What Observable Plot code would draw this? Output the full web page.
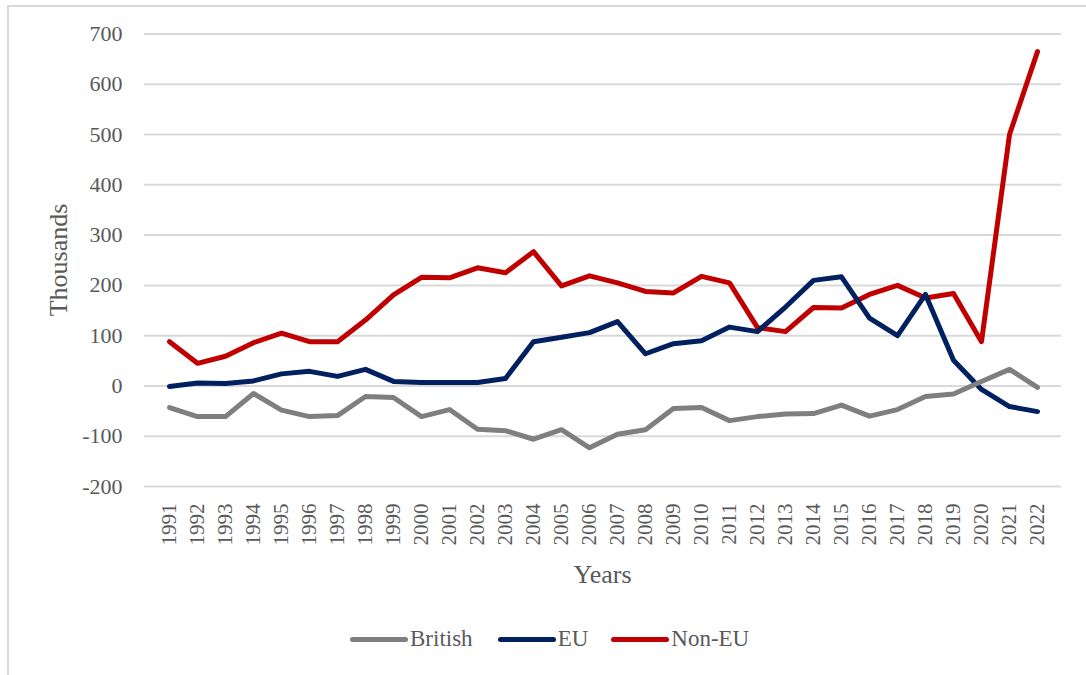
<!DOCTYPE html>
<html>
<head>
<meta charset="utf-8">
<script src="https://cdn.jsdelivr.net/npm/d3@7"></script>
<script src="https://cdn.jsdelivr.net/npm/@observablehq/plot@0.6"></script>
<style>
  html, body { margin: 0; padding: 0; background: #fff; }
  #wrap { position: relative; width: 1086px; height: 675px; overflow: hidden; font-family: "Liberation Serif", "Times New Roman", serif; }
  #frame { position: absolute; left: 7px; top: 5px; width: 1200px; height: 800px; border-left: 2px solid #d9d9d9; border-top: 2px solid #d9d9d9; }
  #chart { position: absolute; left: 0; top: 0; }
  #chart svg text { font-family: "Liberation Serif", "Times New Roman", serif; }
  #legend { position: absolute; left: 350px; top: 626px; display: flex; align-items: center; font-size: 23px; color: #595959; }
  .item { display: flex; align-items: center; }
  .sw { width: 58px; height: 5px; border-radius: 3px; margin-right: 2px; }
</style>
</head>
<body>
<div id="wrap">
  <div id="frame"></div>
  <div id="chart"></div>
  <div id="legend"></div>
</div>
<script>
const years = [1991,1992,1993,1994,1995,1996,1997,1998,1999,2000,2001,2002,2003,2004,2005,2006,2007,2008,2009,2010,2011,2012,2013,2014,2015,2016,2017,2018,2019,2020,2021,2022];
const british = [-43,-61,-61,-15,-48,-61,-59,-21,-23,-61,-47,-86,-89,-106,-87,-123,-96,-87,-45,-43,-69,-61,-56,-55,-38,-60,-47,-21,-16,9,33,-3];
const eu = [-1,6,5,10,24,29,19,33,9,7,7,7,15,88,97,106,128,64,84,90,117,108,157,210,217,135,100,182,51,-7,-41,-51];
const nonEu = [88,45,59,86,105,88,88,131,181,216,215,235,225,267,199,219,205,188,185,218,205,116,108,156,155,182,200,175,184,88,500,665];
const seriesNames = ["British", "EU", "Non-EU"];
const seriesColors = ["#7f7f7f", "#002060", "#c00000"];
const yTicks = [-200,-100,0,100,200,300,400,500,600,700];
const xTitle = "Years";
const yTitle = "Thousands";

const seriesValues = [british, eu, nonEu];
const rows = [];
seriesNames.forEach((name, i) => {
  years.forEach((yr, j) => rows.push({series: name, year: yr, value: seriesValues[i][j]}));
});
// draw in reverse so British sits on top
const drawOrder = seriesNames.slice().reverse();
const serif = "Liberation Serif";

const W = 1086, H = 600;
const chart = Plot.plot({
  width: W,
  height: H,
  marginLeft: 144,
  marginRight: 25,
  marginTop: 33.5,
  marginBottom: H - 486,
  style: {fontFamily: "'Liberation Serif', 'Times New Roman', serif", color: "#595959", background: "transparent", overflow: "visible"},
  x: {type: "point", domain: years, padding: 0.5},
  y: {domain: [-200, 700]},
  color: {domain: seriesNames, range: seriesColors},
  marks: [
    Plot.gridY(yTicks, {stroke: "#d9d9d9", strokeOpacity: 1, strokeWidth: 2}),
    Plot.axisY(yTicks, {tickSize: 0, tickPadding: 22, fontSize: 22, fontFamily: serif, fontVariant: "normal", label: null, tickFormat: d => String(d)}),
    Plot.axisX(years, {tickSize: 0, tickPadding: 17, tickRotate: -90, fontSize: 21, fontFamily: serif, fontVariant: "normal", label: null, tickFormat: d => String(d)}),
    ...drawOrder.map(name => Plot.line(rows.filter(r => r.series === name), {
      x: "year", y: "value", stroke: "series", strokeWidth: 5,
      strokeLinejoin: "round", strokeLinecap: "round"
    }))
  ]
});
document.getElementById("chart").appendChild(chart);

const svg = d3.select(chart);
svg.append("text")
  .attr("x", 602.5).attr("y", 583)
  .attr("text-anchor", "middle")
  .attr("font-size", 26).attr("fill", "#595959")
  .text(xTitle);
svg.append("text")
  .attr("transform", "translate(67,260) rotate(-90)")
  .attr("text-anchor", "middle")
  .attr("font-size", 26).attr("fill", "#595959")
  .text(yTitle);

const legend = document.getElementById("legend");
const gaps = [0, 25, 23];
seriesNames.forEach((name, i) => {
  const item = document.createElement("div");
  item.className = "item";
  item.style.marginLeft = gaps[i] + "px";
  const sw = document.createElement("div");
  sw.className = "sw";
  sw.style.background = seriesColors[i];
  const t = document.createElement("span");
  t.textContent = name;
  item.appendChild(sw);
  item.appendChild(t);
  legend.appendChild(item);
});
</script>
</body>
</html>
